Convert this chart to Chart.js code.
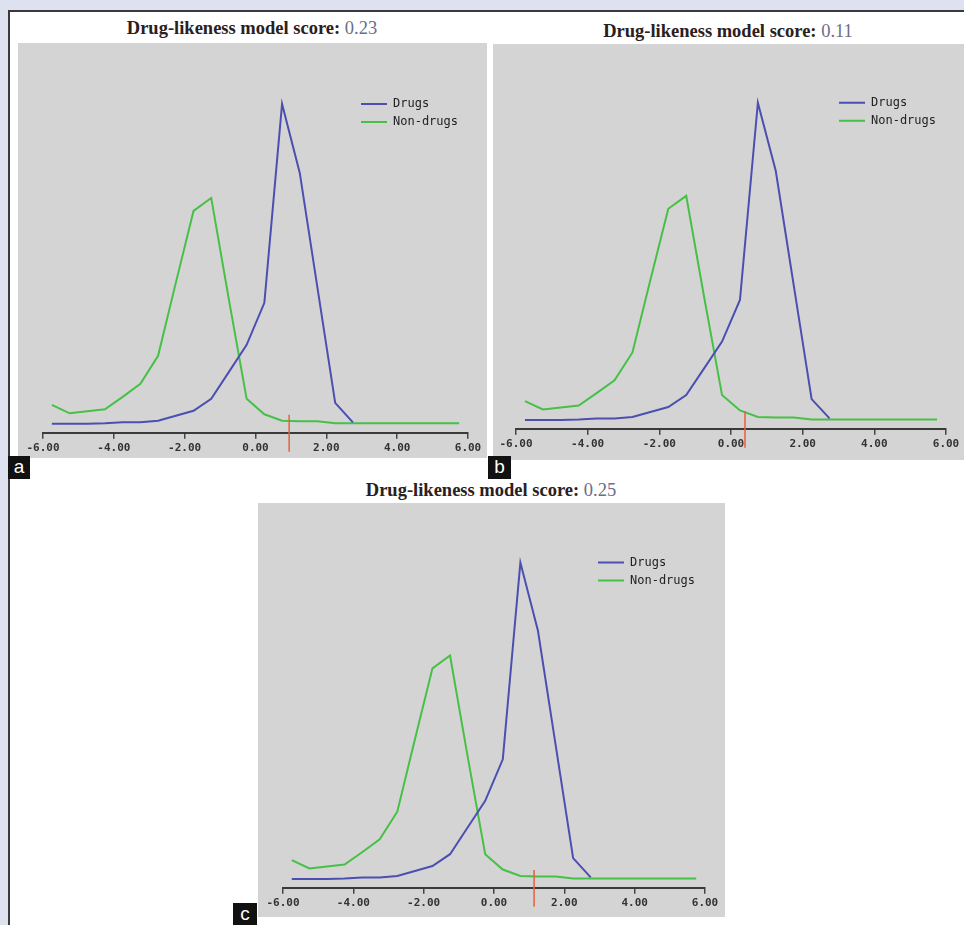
<!DOCTYPE html>
<html>
<head>
<meta charset="utf-8">
<script src="https://cdn.jsdelivr.net/npm/chart.js@4.4.1/dist/chart.umd.min.js"></script>
<style>
  body { margin: 0; width: 964px; height: 925px; overflow: hidden; position: relative; background: #dde1f0; }
  #frame { position: absolute; left: 8px; top: 10px; width: 956px; height: 915px; background: #fff;
           border-left: 2px solid #3a3a3a; border-top: 2px solid #3a3a3a; }
  .panel { position: absolute; background: #d4d4d4; }
  .title { position: absolute; transform: translateX(-50%); white-space: nowrap; line-height: 20px;
           font-family: "Liberation Serif", "DejaVu Serif", serif; font-size: 18.5px; font-weight: bold; color: #2a2020; }
  .title span { font-weight: normal; color: #6a6e88; }
  .tag { position: absolute; background: #111; color: #fff; text-align: center;
         font-family: "Liberation Sans", sans-serif; font-size: 19px; line-height: 22px; }
</style>
</head>
<body>
<div id="frame"></div>

<div class="title" style="left:252px;top:18px">Drug-likeness model score: <span id="s0"></span></div>
<div class="title" style="left:728px;top:21px">Drug-likeness model score: <span id="s1"></span></div>
<div class="title" style="left:491px;top:480px">Drug-likeness model score: <span id="s2"></span></div>

<div class="panel" style="left:18px;top:43px;width:469px;height:415px"><canvas id="c0" width="469" height="415"></canvas></div>
<div class="panel" style="left:493px;top:44px;width:471px;height:416px"><canvas id="c1" width="471" height="416"></canvas></div>
<div class="panel" style="left:258px;top:503px;width:467px;height:414px"><canvas id="c2" width="467" height="414"></canvas></div>

<div class="tag" style="left:8px;top:456px;width:22px;height:23px">a</div>
<div class="tag" style="left:488px;top:456px;width:23px;height:23px">b</div>
<div class="tag" style="left:233px;top:903px;width:24px;height:22px">c</div>

<script>
// bin centres of the score histogram
const binCentres = [-5.75, -5.25, -4.75, -4.25, -3.75, -3.25, -2.75, -2.25, -1.75, -1.25, -0.75, -0.25,
                    0.25, 0.75, 1.25, 1.75, 2.25, 2.75, 3.25, 3.75, 4.25, 4.75, 5.25, 5.75];
// relative frequency (%) per bin
const drugs = [0, 0, 0, 0.05, 0.15, 0.15, 0.3, 0.8, 1.3, 2.5, 5.2, 7.9,
               12.1, 32.0, 25.1, 13.6, 2.1, 0.15, null, null, null, null, null, null];
const nonDrugs = [1.9, 1.05, 1.25, 1.45, 2.7, 4.0, 6.8, 14.1, 21.3, 22.6, 12.4, 2.5,
                  0.95, 0.3, 0.25, 0.25, 0.05, 0.05, 0.05, 0.05, 0.05, 0.05, 0.05, 0.05];

const scores = ["0.23", "0.11", "0.25"];
const markers = [0.95, 0.39, 1.14];
const xTicks = [-6, -4, -2, 0, 2, 4, 6];

const paddings = [
  {left: 25, right: 19, top: 21, bottom: 0},
  {left: 23, right: 18, top: 19, bottom: 6},
  {left: 25, right: 20, top: 20, bottom: 4}
];

// red score marker
const markerLine = {
  id: 'markerLine',
  afterDatasetsDraw(chart, args, opts) {
    const ctx = chart.ctx;
    const x = chart.scales.x.getPixelForValue(opts.value);
    const y1 = chart.scales.y.getPixelForValue(0.9);
    const y2 = chart.chartArea.bottom + 19;
    ctx.save();
    ctx.strokeStyle = '#e8603c';
    ctx.lineWidth = 1.5;
    ctx.beginPath();
    ctx.moveTo(x, y1);
    ctx.lineTo(x, y2);
    ctx.stroke();
    ctx.restore();
  }
};

// move the built-in legend to the upper right of the plot
const legendSpot = {
  id: 'legendSpot',
  afterLayout(chart) {
    const lg = chart.legend;
    const ca = chart.chartArea;
    const pad = lg.options.labels.padding;
    const w = lg.width;
    lg.left = ca.right - 107 - pad;
    lg.right = lg.left + w;
    lg.top = chart.scales.y.getPixelForValue(32) - pad - 6;
  }
};

function toPoints(values) {
  return binCentres.map((x, i) => ({x: x, y: values[i]}));
}

function makeChart(i) {
  document.getElementById('s' + i).textContent = scores[i];
  const ctx = document.getElementById('c' + i).getContext('2d');
  new Chart(ctx, {
    type: 'line',
    data: {
      datasets: [
        {
          label: 'Drugs',
          data: toPoints(drugs),
          borderColor: '#4b4fb0',
          backgroundColor: '#4b4fb0',
          borderWidth: 2,
          pointRadius: 0,
          tension: 0,
          spanGaps: false
        },
        {
          label: 'Non-drugs',
          data: toPoints(nonDrugs),
          borderColor: '#46c046',
          backgroundColor: '#46c046',
          borderWidth: 2,
          pointRadius: 0,
          tension: 0
        }
      ]
    },
    options: {
      responsive: false,
      animation: false,
      layout: {padding: paddings[i]},
      scales: {
        x: {
          type: 'linear',
          min: -6,
          max: 6,
          afterBuildTicks: (scale) => { scale.ticks = xTicks.map(v => ({value: v})); },
          ticks: {
            callback: (v) => Number(v).toFixed(2),
            color: '#333',
            padding: 3,
            maxRotation: 0,
            font: {family: '"DejaVu Sans Mono", monospace', size: 11, weight: 'bold'}
          },
          grid: {display: true, drawOnChartArea: false, drawTicks: true, tickLength: 6, color: '#444', lineWidth: 1.5},
          border: {display: true, color: '#3a3a3a', width: 2}
        },
        y: {display: false, min: -0.9, max: 36}
      },
      plugins: {
        legend: {
          position: 'chartArea',
          align: 'start',
          labels: {
            usePointStyle: true,
            pointStyle: 'line',
            pointStyleWidth: 26,
            padding: 6,
            color: '#222',
            font: {family: '"DejaVu Sans Mono", monospace', size: 12}
          }
        },
        tooltip: {enabled: false},
        markerLine: {value: markers[i]}
      }
    },
    plugins: [markerLine, legendSpot]
  });
}

[0, 1, 2].forEach(makeChart);
</script>
</body>
</html>
